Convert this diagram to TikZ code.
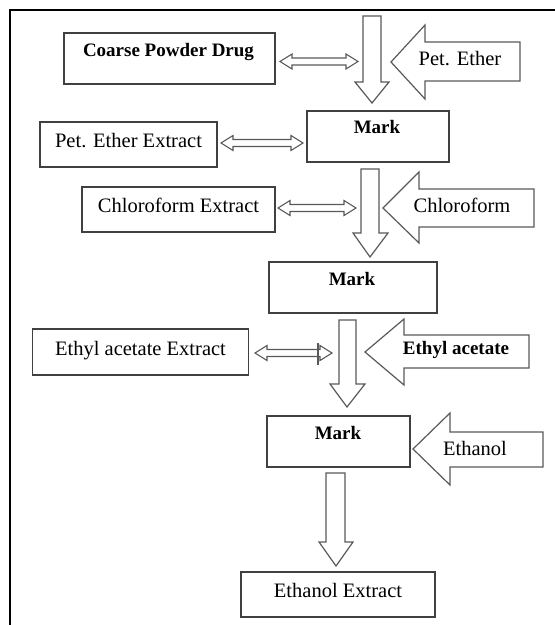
\documentclass[tikz,border=0pt]{standalone}
\usepackage{fontspec}
\setmainfont{Liberation Serif}
\usetikzlibrary{calc}
\tikzset{
  boxst/.style={draw=black!75, line width=1.3pt, inner sep=0pt, text height=0.662em, text depth=0pt,
     font=\fontsize{20.5}{24}\selectfont},
  txtst/.style={inner sep=0pt, text height=0.662em, text depth=0pt, font=\fontsize{20.5}{24}\selectfont},
  boldst/.style={inner sep=0pt, text height=0.662em, text depth=0pt, font=\fontsize{19}{23}\selectfont\bfseries},
  blkarrow/.style={draw=black!65, line width=1.2pt, line join=miter},
  dblst/.style={draw=black!65, line width=1.1pt, line join=miter},
  framest/.style={draw=black, line width=2pt}
}
\newcommand{\dblarrow}[2]{%
  \draw[dblst] let \p1=(#1), \p2=(#2) in
   (\x1,\y1) -- (\x1+12pt,\y1+7.5pt) -- (\x1+12pt,\y1+3.5pt) -- (\x2-12pt,\y1+3.5pt)
   -- (\x2-12pt,\y1+7.5pt) -- (\x2,\y1) -- (\x2-12pt,\y1-7.5pt) -- (\x2-12pt,\y1-3.5pt)
   -- (\x1+12pt,\y1-3.5pt) -- (\x1+12pt,\y1-7.5pt) -- cycle;}
\begin{document}
\begin{tikzpicture}[x=1pt,y=-1pt]
\useasboundingbox (0,0) rectangle (555,625);
% frame
\draw[framest] (555,10) -- (9.5,10) -- (9.5,625);

% boxes
\node[boxst, minimum width=211pt, minimum height=51pt] (coarse) at (169.5,58.5) {};
\node[boldst] (coarseT) at (168.5,53) {Coarse Powder Drug};
\node[boxst, minimum width=177pt, minimum height=45pt] (peext) at (128.5,144.5) {Pet. Ether Extract};
\node[boxst, minimum width=142pt, minimum height=51pt] (mark1) at (378,136.5) {};
\node[boldst] (mark1T) at (377,130) {Mark};
\node[boxst, minimum width=193pt, minimum height=45pt] (chext) at (178.5,209.5) {Chloroform Extract};
\node[boxst, minimum width=168pt, minimum height=51pt] (mark2) at (353,287.5) {};
\node[boldst] (mark2T) at (352,282) {Mark};
\node[boxst, minimum width=216pt, minimum height=46pt] (etext) at (140.5,352) {Ethyl acetate Extract};
\node[boxst, minimum width=143pt, minimum height=51pt] (mark3) at (338.5,441.5) {};
\node[boldst] (mark3T) at (338,436) {Mark};
\node[boxst, minimum width=194pt, minimum height=45pt] (ethext) at (338,594.5) {Ethanol Extract};

% down block arrows
\draw[blkarrow] (363,16) -- (381,16) -- (381,82) -- (389,82) -- (372,103) -- (355,82) -- (363,82) -- cycle;
\draw[blkarrow] (361,169) -- (379,169) -- (379,233) -- (388,233) -- (370,257) -- (353,233) -- (361,233) -- cycle;
\draw[blkarrow] (339,320) -- (356,320) -- (356,384) -- (365,384) -- (347,407) -- (330,384) -- (339,384) -- cycle;
\draw[blkarrow] (326,473) -- (345,473) -- (345,542) -- (353,542) -- (336,566) -- (319,542) -- (326,542) -- cycle;

% left block arrows with solvent names
\draw[blkarrow] (391,62) -- (425,25) -- (425,42) -- (520,42) -- (520,81) -- (425,81) -- (425,99) -- cycle;
\node[txtst] (pe) at (460,62) {Pet. Ether};
\draw[blkarrow] (383,208) -- (419,172) -- (419,189) -- (534,189) -- (534,227) -- (419,227) -- (419,243) -- cycle;
\node[txtst] (ch) at (462,209) {Chloroform};
\draw[blkarrow] (365,352) -- (404,319) -- (404,335) -- (529,335) -- (529,368) -- (404,368) -- (404,385) -- cycle;
\node[boldst] (ea) at (456,351) {Ethyl acetate};
\draw[blkarrow] (413,449) -- (450,413) -- (450,432) -- (543,432) -- (543,467) -- (450,467) -- (450,485) -- cycle;
\node[txtst] (et) at (475,452) {Ethanol};

% double arrows
\coordinate (d1a) at (280,61.5); \coordinate (d1b) at (358,61.5);
\coordinate (d2a) at (221,143); \coordinate (d2b) at (303,143);
\coordinate (d3a) at (278,208); \coordinate (d3b) at (356,208);
\coordinate (d4a) at (255,353); \coordinate (d4b) at (332,353);
\dblarrow{d1a}{d1b}
\dblarrow{d2a}{d2b}
\dblarrow{d3a}{d3b}
\dblarrow{d4a}{d4b}
\coordinate (tk1) at (318,343); \coordinate (tk2) at (318,365);
\draw[dblst] (tk1) -- (tk2);
\end{tikzpicture}
\end{document}
